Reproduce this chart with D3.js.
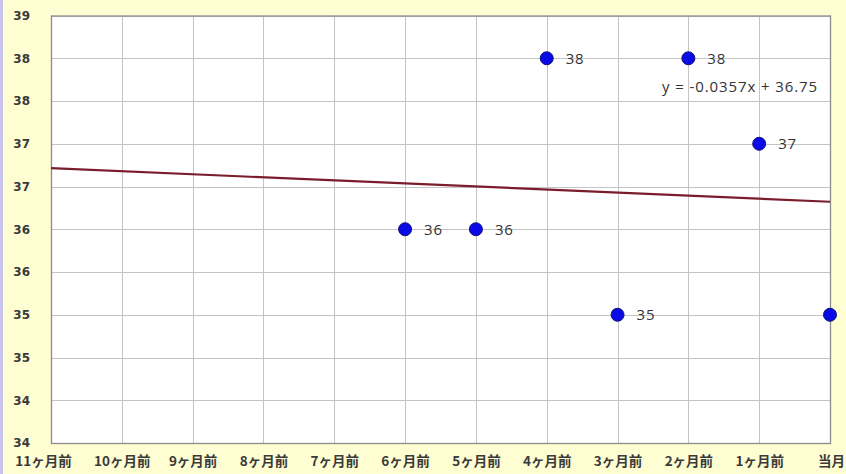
<!DOCTYPE html>
<html>
<head>
<meta charset="utf-8">
<script src="https://cdn.jsdelivr.net/npm/d3@7"></script>
<style>
  html, body { margin: 0; padding: 0; background: #fffdd2; }
  svg { display: block; }
</style>
</head>
<body>
<svg id="chart" width="846" height="474"></svg>
<script>
// Months, oldest first; the series has values only for the last seven.
const categories = ["11ヶ月前", "10ヶ月前", "9ヶ月前", "8ヶ月前", "7ヶ月前", "6ヶ月前",
                    "5ヶ月前", "4ヶ月前", "3ヶ月前", "2ヶ月前", "1ヶ月前", "当月"];
const pointMonths = ["6ヶ月前", "5ヶ月前", "4ヶ月前", "3ヶ月前", "2ヶ月前", "1ヶ月前", "当月"];
const pointValues = [36, 36, 38, 35, 38, 37, 35];

// Value axis: 33.5 to 38.5 in steps of 0.5, labels shown as whole numbers.
const yTicks = [33.5, 34, 34.5, 35, 35.5, 36, 36.5, 37, 37.5, 38, 38.5];
const yTickLabels = ["34", "34", "35", "35", "36", "36", "37", "37", "38", "38", "39"];

// Linear trend, x counted from 1 at the first month.
const trendSlope = -0.0357;
const trendIntercept = 36.75;
const trendLabel = "y = -0.0357x + 36.75";

const svg = d3.select("#chart");
const W = 846, H = 474;
const plot = { left: 51, right: 830, top: 15.5, bottom: 443 };

// Page background with the narrow left strip
svg.append("rect").attr("width", W).attr("height", H).attr("fill", "#fffdd2");
svg.append("rect").attr("width", 3).attr("height", H).attr("fill", "#c9c2ee");

const x = d3.scalePoint().domain(categories).range([plot.left, plot.right]);
const y = d3.scaleLinear().domain([yTicks[0], yTicks[yTicks.length - 1]])
  .range([plot.bottom, plot.top]);

// Plot area
svg.append("rect")
  .attr("x", plot.left).attr("y", plot.top)
  .attr("width", plot.right - plot.left).attr("height", plot.bottom - plot.top)
  .attr("fill", "#ffffff");

// Gridlines
const grid = svg.append("g").attr("stroke", "#c4c4c4").attr("stroke-width", 1);
grid.selectAll("line.h").data(yTicks).join("line")
  .attr("x1", plot.left).attr("x2", plot.right)
  .attr("y1", d => Math.round(y(d)) + 0.5).attr("y2", d => Math.round(y(d)) + 0.5);
grid.selectAll("line.v").data(categories).join("line")
  .attr("y1", plot.top).attr("y2", plot.bottom)
  .attr("x1", d => Math.round(x(d)) + 0.5).attr("x2", d => Math.round(x(d)) + 0.5);

// Plot border
svg.append("rect")
  .attr("x", plot.left + 0.5).attr("y", plot.top + 0.5)
  .attr("width", plot.right - plot.left).attr("height", plot.bottom - plot.top)
  .attr("fill", "none").attr("stroke", "#8c8c8c").attr("stroke-width", 1.3);

// Y axis labels
const yAxis = d3.axisLeft(y).tickValues(yTicks)
  .tickFormat((d, i) => yTickLabels[i]).tickSize(0).tickPadding(21);
svg.append("g").attr("transform", `translate(${plot.left},0)`).call(yAxis)
  .call(g => g.select(".domain").remove())
  .call(g => g.selectAll("text")
    .attr("font-family", "'DejaVu Sans', sans-serif")
    .attr("font-size", 12).attr("font-weight", "bold").attr("fill", "#3a3a3a"));

// X axis labels
const xAxis = d3.axisBottom(x).tickSize(0).tickPadding(13);
svg.append("g").attr("transform", `translate(0,${plot.bottom})`).call(xAxis)
  .call(g => g.select(".domain").remove())
  .call(g => g.selectAll("text")
    .attr("font-family", "'Noto Sans CJK JP', sans-serif")
    .attr("font-size", 13.5).attr("font-weight", "bold").attr("fill", "#3a3a3a")
    .attr("dx", (d, i) => i === 0 ? -8 : (i === categories.length - 1 ? 1 : 0)));

// Trend line over the whole category range
const trendX = [1, categories.length];
svg.append("line")
  .attr("x1", x(categories[trendX[0] - 1])).attr("x2", x(categories[trendX[1] - 1]))
  .attr("y1", y(trendSlope * trendX[0] + trendIntercept))
  .attr("y2", y(trendSlope * trendX[1] + trendIntercept))
  .attr("stroke", "#7b1c2c").attr("stroke-width", 2.2);

// Trend equation
svg.append("text")
  .attr("x", 818).attr("y", 87).attr("dy", "0.35em").attr("text-anchor", "end")
  .attr("font-family", "'Open Sans', 'DejaVu Sans', sans-serif")
  .attr("font-size", 15).attr("letter-spacing", 0.9).attr("fill", "#333")
  .text(trendLabel);

// Points and their value labels (labels that would fall past the right edge are left out)
const points = pointMonths.map((m, i) => ({ month: m, value: pointValues[i] }));
svg.append("g").selectAll("circle").data(points).join("circle")
  .attr("cx", d => x(d.month)).attr("cy", d => y(d.value)).attr("r", 6.5)
  .attr("fill", "#0a0ae6").attr("stroke", "#10107a").attr("stroke-width", 1);
svg.append("g").selectAll("text").data(points.filter(d => x(d.month) + 40 < W)).join("text")
  .attr("x", d => x(d.month) + 19).attr("y", d => y(d.value)).attr("dy", "0.36em")
  .attr("font-family", "'Open Sans', 'DejaVu Sans', sans-serif")
  .attr("font-size", 15).attr("letter-spacing", 0.8).attr("fill", "#333")
  .text(d => d.value);
</script>
</body>
</html>
